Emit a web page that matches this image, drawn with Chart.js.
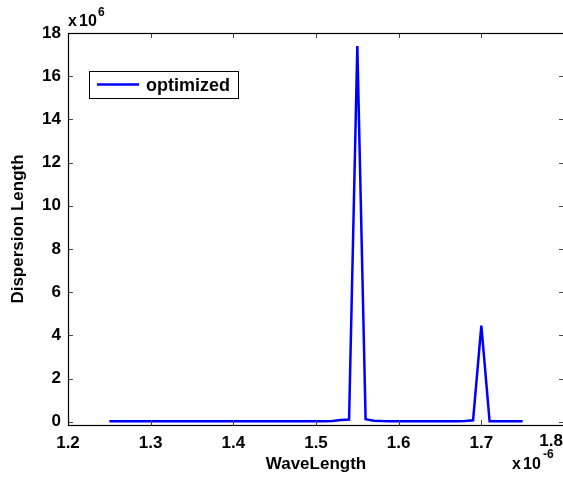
<!DOCTYPE html>
<html>
<head>
<meta charset="utf-8">
<script src="https://cdn.jsdelivr.net/npm/chart.js@4.4.1/dist/chart.umd.min.js"></script>
<style>
  html, body { margin:0; padding:0; background:#fff; overflow:hidden; }
  #wrap { width:575px; height:480px; }
</style>
</head>
<body>
<div id="wrap"><canvas id="c" width="575" height="480"></canvas></div>
<script>
// wavelength, in units of 1e-6
const waveLength = [1.25,1.26,1.27,1.28,1.29,1.30,1.31,1.32,1.33,1.34,1.35,1.36,1.37,1.38,1.39,1.40,
  1.41,1.42,1.43,1.44,1.45,1.46,1.47,1.48,1.49,1.50,1.51,1.52,1.53,1.54,1.55,1.56,1.57,1.58,1.59,1.60,
  1.61,1.62,1.63,1.64,1.65,1.66,1.67,1.68,1.69,1.70,1.71,1.72,1.73,1.74,1.75];
// dispersion length, in units of 1e6
const optimized = [0.02,0.02,0.02,0.02,0.02,0.02,0.02,0.02,0.02,0.02,0.02,0.02,0.02,0.02,0.02,0.02,
  0.02,0.02,0.02,0.02,0.02,0.02,0.02,0.02,0.02,0.02,0.02,0.03,0.08,0.10,17.4,0.12,0.05,0.03,0.02,0.02,
  0.02,0.02,0.02,0.02,0.02,0.02,0.02,0.03,0.07,4.45,0.02,0.02,0.02,0.02,0.02];
const xTicks = [1.2,1.3,1.4,1.5,1.6,1.7,1.8];
const yTicks = [0,2,4,6,8,10,12,14,16,18];
const seriesName = 'optimized';

const FONT = 'Liberation Sans, Arial, Helvetica, sans-serif';
const lastX = xTicks[xTicks.length-1];

const matlabBox = {
  id:'matlabBox',
  afterDraw(chart){
    const {ctx, chartArea:a, scales:{x,y}} = chart;
    ctx.save();
    // ticks inside, all four sides
    ctx.strokeStyle='#444'; ctx.lineWidth=1;
    ctx.beginPath();
    for (const v of xTicks){
      const px=Math.round(x.getPixelForValue(v))+0.5;
      ctx.moveTo(px,a.bottom); ctx.lineTo(px,a.bottom-5);
      ctx.moveTo(px,a.top); ctx.lineTo(px,a.top+5);
    }
    for (const v of yTicks){
      const py=Math.round(y.getPixelForValue(v))+0.5;
      ctx.moveTo(a.left,py); ctx.lineTo(a.left+5,py);
      ctx.moveTo(a.right,py); ctx.lineTo(a.right-5,py);
    }
    ctx.stroke();
    // frame
    ctx.strokeStyle='#000'; ctx.lineWidth=1.2;
    ctx.strokeRect(Math.round(a.left)+0.5, Math.round(a.top)+0.5, Math.round(a.right-a.left), Math.round(a.bottom-a.top));
    ctx.fillStyle='#000'; ctx.textBaseline='alphabetic';
    // last x tick label is pushed inside the visible window, like the figure export
    ctx.textAlign='right'; ctx.font='bold 17px '+FONT;
    ctx.fillText(lastX.toFixed(1), 563, a.bottom+21);
    // exponent labels
    ctx.textAlign='left';
    ctx.font='bold 16px '+FONT;
    ctx.fillText('x', 68, 26);
    ctx.fillText('10', 79, 26);
    ctx.font='bold 12px '+FONT;
    ctx.fillText('6', 98, 16);
    ctx.font='bold 16px '+FONT;
    ctx.fillText('x', 512, 469);
    ctx.fillText('10', 523, 469);
    ctx.font='bold 12px '+FONT;
    ctx.fillText('-6', 543, 458);
    // legend
    ctx.fillStyle='#fff';
    ctx.fillRect(89.5,71.5,149,27);
    ctx.strokeStyle='#000'; ctx.lineWidth=1;
    ctx.strokeRect(89.5,71.5,149,27);
    ctx.strokeStyle='#0000ff'; ctx.lineWidth=2.5;
    ctx.beginPath(); ctx.moveTo(97,84.5); ctx.lineTo(139,84.5); ctx.stroke();
    ctx.fillStyle='#000'; ctx.font='bold 18px '+FONT;
    ctx.fillText(seriesName, 146, 91);
    ctx.restore();
  }
};

new Chart(document.getElementById('c'), {
  type:'line',
  data:{ datasets:[{ label:seriesName,
    data: waveLength.map((w,i)=>({x:w, y:optimized[i]})),
    borderColor:'#0000ff', borderWidth:2.5, pointRadius:0, fill:false, tension:0 }]},
  options:{
    responsive:false, animation:false,
    layout:{ padding:{ top:33, right:11, left:0, bottom:0 } },
    plugins:{ legend:{display:false}, tooltip:{enabled:false} },
    scales:{
      x:{ type:'linear', min:1.2, max:1.8,
        afterBuildTicks(s){ s.ticks = xTicks.map(v=>({value:v})); },
        afterFit(s){ s.height = 55; s.paddingLeft = 0; s.paddingRight = 0; },
        grid:{ display:false, drawTicks:false }, border:{display:false},
        ticks:{ color:'#000', font:{family:FONT, size:17, weight:'bold'}, padding:8, maxRotation:0,
          callback:v=>v===lastX ? '' : v.toFixed(1) },
        title:{ display:true, text:'WaveLength', color:'#000', font:{family:FONT, size:17, weight:'bold'}, padding:{top:0,bottom:5} }
      },
      y:{ type:'linear', min:-0.15, max:18,
        afterBuildTicks(s){ s.ticks = yTicks.map(v=>({value:v})); },
        afterFit(s){ s.width = 68; s.paddingTop = 0; s.paddingBottom = 0; },
        grid:{ display:false, drawTicks:false }, border:{display:false},
        ticks:{ color:'#000', font:{family:FONT, size:17, weight:'bold'}, padding:7,
          callback:v=>String(v) },
        title:{ display:true, text:'Dispersion Length', color:'#000', font:{family:FONT, size:17, weight:'bold'}, padding:{top:8,bottom:0} }
      }
    }
  },
  plugins:[matlabBox]
});
</script>
</body>
</html>
